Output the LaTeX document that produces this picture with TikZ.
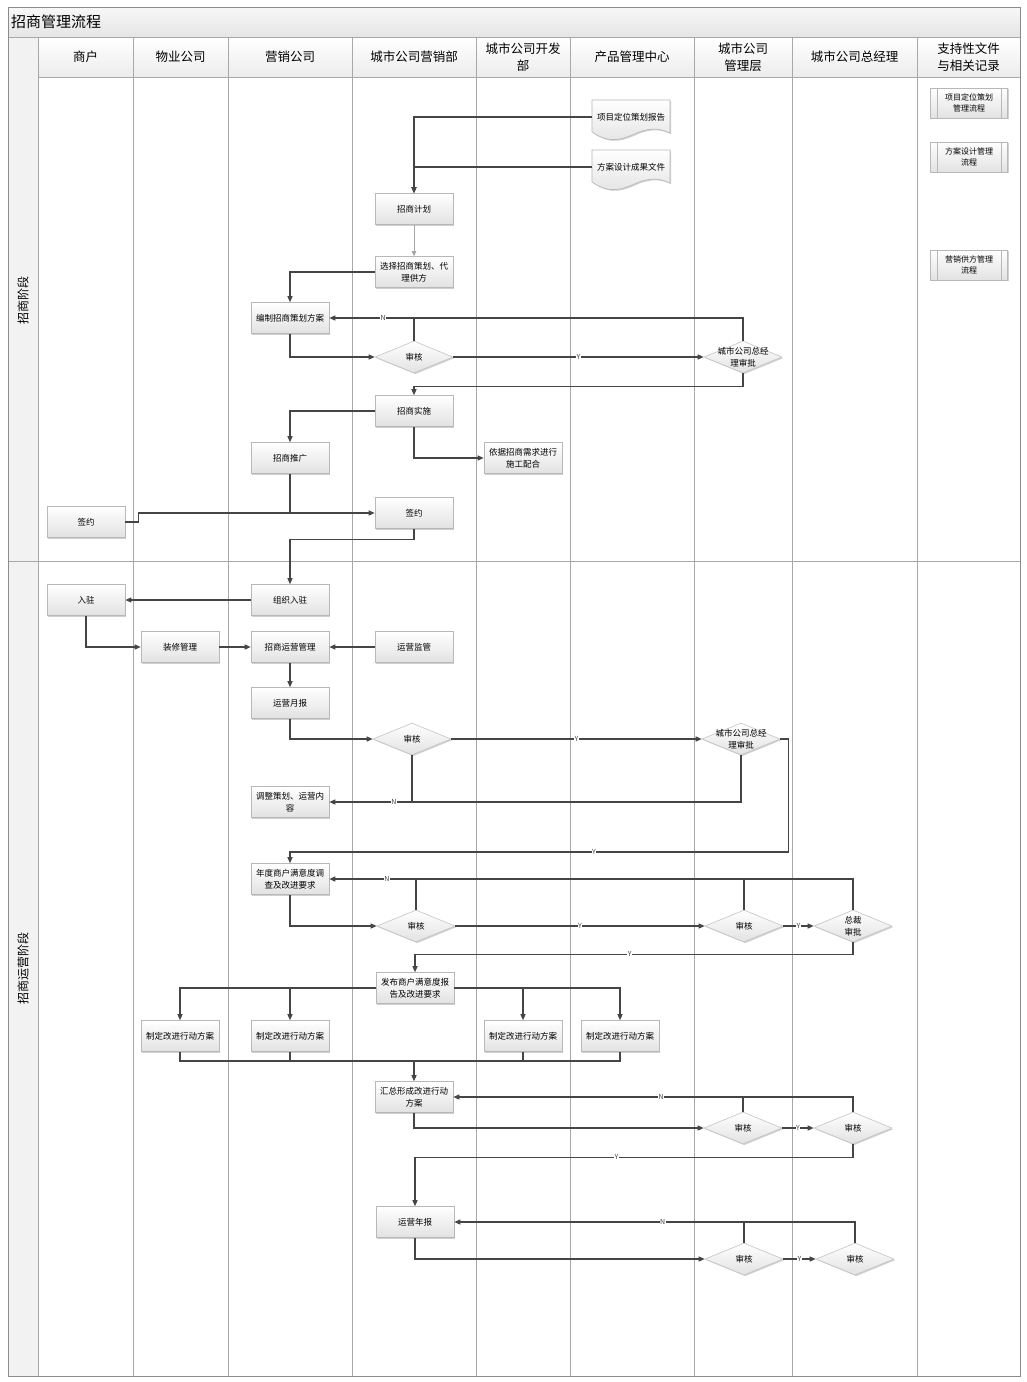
\documentclass[tikz,border=0pt]{standalone}
\usepackage{fontspec}
\setmainfont{Noto Sans CJK SC}
\usetikzlibrary{arrows.meta,shapes.geometric,shadows,calc}
\definecolor{linecol}{HTML}{454545}
\definecolor{lanecol}{HTML}{A8A8A8}
\definecolor{boxborder}{HTML}{B8B8B8}
\definecolor{boxbottom}{HTML}{E2E2E2}
\definecolor{decborder}{HTML}{C4C4C4}
\definecolor{headbottom}{HTML}{ECECEC}
\definecolor{phasefill}{HTML}{F2F2F2}
\tikzset{
  boxshadow/.style={drop shadow={shadow xshift=1.2pt,shadow yshift=-1.2pt,opacity=0.3,fill=black!60}},
  proc/.style={draw=boxborder,line width=0.6pt,top color=white,bottom color=boxbottom,
    minimum width=78pt,minimum height=31pt,inner sep=1pt,align=center,
    font=\fontsize{8.5}{12}\selectfont,boxshadow},
  supbox/.style={proc,minimum width=77pt,minimum height=30pt,font=\fontsize{8}{11}\selectfont},
  dec/.style={diamond,draw=decborder,line width=0.6pt,top color=white,bottom color=boxbottom,
    minimum width=78pt,minimum height=32pt,inner sep=0pt,boxshadow},
  dectext/.style={font=\fontsize{8.5}{12}\selectfont,align=center,inner sep=0pt},
  docshape/.style={draw=boxborder,line width=0.6pt,top color=white,bottom color=boxbottom,boxshadow},
  docnode/.style={minimum width=78pt,minimum height=34pt,inner sep=1pt,font=\fontsize{8.5}{12}\selectfont},
  conn/.style={draw=linecol,line width=1.1pt,-{Triangle[length=6pt,width=5pt]}},
  thinconn/.style={draw=black!35,line width=0.6pt,-{Triangle[length=5pt,width=4.5pt]},},
  plain/.style={draw=linecol,line width=1.1pt},
  yn/.style={font=\fontsize{7}{7}\selectfont,fill=white,inner sep=0.6pt,text=linecol},
  lane/.style={draw=lanecol,line width=0.7pt},
  head/.style={font=\fontsize{12.5}{17}\selectfont,align=center,inner sep=0pt},
}
\begin{document}
\begin{tikzpicture}[x=1pt,y=-1pt]
\useasboundingbox (0,0) rectangle (1026,1382);
% frame and lanes
\fill[white] (8,7) rectangle (1020,1376);
\shade[top color=white!97!black,bottom color=white!90!black] (8,7) rectangle (1020,37);
\shade[top color=white,bottom color=headbottom] (38,37) rectangle (1020,77);
\fill[phasefill] (8,37) rectangle (38,1376);
\node[anchor=west,font=\fontsize{15}{15}\selectfont,inner sep=0pt] (title) at (11,22) {招商管理流程};
\foreach \x in {38,133,228,352,476,570,694,792,917}{\draw[lane] (\x,37) -- (\x,1376);}
\draw[lane] (8,37) -- (1020,37);
\draw[lane] (38,77) -- (1020,77);
\draw[lane] (8,561) -- (1020,561);
\draw[draw=black!45,line width=0.8pt] (8,7) rectangle (1020,1376);
% headers
\node[head] (h1) at (85.5,57) {商户};
\node[head] (h2) at (180.5,57) {物业公司};
\node[head] (h3) at (290,57) {营销公司};
\node[head] (h4) at (414,57) {城市公司营销部};
\node[head] (h5) at (523,57) {城市公司开发\\部};
\node[head] (h6) at (632,57) {产品管理中心};
\node[head] (h7) at (743,57) {城市公司\\管理层};
\node[head] (h8) at (854.5,57) {城市公司总经理};
\node[head] (h9) at (968.5,57) {支持性文件\\与相关记录};
\node[rotate=90,font=\fontsize{12}{12}\selectfont,inner sep=0pt] (ph1) at (23,300) {招商阶段};
\node[rotate=90,font=\fontsize{12}{12}\selectfont,inner sep=0pt] (ph2) at (23,968) {招商运营阶段};
% document shapes
\foreach \cx/\cy in {631/117,631/167}{
  \path[docshape,shift={(\cx,\cy)}] (-39,-17) -- (39,-17) -- (39,16)
     .. controls (28,11) and (20,11) .. (8,15)
     .. controls (-8,22) and (-20,28) .. (-39,15) -- cycle;
}
\node[docnode] (d1) at (631,117) {项目定位策划报告};
\node[docnode] (d2) at (631,167) {方案设计成果文件};
% support documents
\node[supbox] (s1) at (969,103) {项目定位策划\\管理流程};
\node[supbox] (s2) at (969,157) {方案设计管理\\流程};
\node[supbox] (s3) at (969,265) {营销供方管理\\流程};
\foreach \n in {s1,s2,s3}{
  \draw[boxborder,line width=0.6pt] ($(\n.north west)+(7,0)$) -- ($(\n.south west)+(7,0)$);
  \draw[boxborder,line width=0.6pt] ($(\n.north east)+(-7,0)$) -- ($(\n.south east)+(-7,0)$);
}
% phase 1 nodes
\node[proc] (p1) at (414,209) {招商计划};
\node[proc] (p2) at (414,272) {选择招商策划、代\\理供方};
\node[proc] (p3) at (290,318) {编制招商策划方案};
\node[dec,label={[dectext]center:审核}] (q1) at (414,357) {};
\node[dec,label={[dectext]center:城市公司总经\\理审批}] (q2) at (743,357) {};
\node[proc] (p4) at (414,411) {招商实施};
\node[proc] (p5) at (290,458) {招商推广};
\node[proc] (p6) at (523,458) {依据招商需求进行\\施工配合};
\node[proc] (p7) at (86,522) {签约};
\node[proc] (p8) at (414,513) {签约};
% phase 1 connectors
\draw[conn] (d1.west) -| (p1.north);
\draw[conn] (d2.west) -| (p1.north);
\draw[thinconn] (p1) -- (p2);
\draw[conn] (p2.west) -| (p3.north);
\draw[conn] (p3.south) |- (q1.west);
\draw[conn] (q1.east) -- node[yn]{Y} (q2.west);
\draw[plain] (q1.north) -- (q1.north |- p3.east);
\draw[conn] (q2.north) |- (p3.east) node[yn,pos=0.935]{N};
\draw[conn] (q2.south) -- ++(0,13) -| (p4.north);
\draw[conn] (p4.west) -| (p5.north);
\draw[conn] (p4.south) |- (p6.west);
\draw[plain] (p5.south) -- (p5.south |- p8.west);
\draw[conn] (p7.east) -- ++(13,0) |- (p8.west);
% phase 2 nodes
\node[proc] (r1) at (290,600) {组织入驻};
\node[proc] (r2) at (86,600) {入驻};
\node[proc] (r3) at (180,647) {装修管理};
\node[proc] (r4) at (290,647) {招商运营管理};
\node[proc] (r5) at (414,647) {运营监管};
\node[proc] (r6) at (290,703) {运营月报};
\node[dec,label={[dectext]center:审核}] (q3) at (412,739) {};
\node[dec,label={[dectext]center:城市公司总经\\理审批}] (q4) at (741,739) {};
\node[proc] (r7) at (290,802) {调整策划、运营内\\容};
\node[proc] (r8) at (290,879) {年度商户满意度调\\查及改进要求};
\node[dec,label={[dectext]center:审核}] (q5) at (416,926) {};
\node[dec,label={[dectext]center:审核}] (q6) at (744,926) {};
\node[dec,label={[dectext]center:总裁\\审批}] (q7) at (853,926) {};
\node[proc] (r9) at (415,988) {发布商户满意度报\\告及改进要求};
\node[proc] (a1) at (180,1036) {制定改进行动方案};
\node[proc] (a2) at (290,1036) {制定改进行动方案};
\node[proc] (a3) at (523,1036) {制定改进行动方案};
\node[proc] (a4) at (620,1036) {制定改进行动方案};
\node[proc] (r10) at (414,1097) {汇总形成改进行动\\方案};
\node[dec,label={[dectext]center:审核}] (q8) at (743,1128) {};
\node[dec,label={[dectext]center:审核}] (q9) at (853,1128) {};
\node[proc] (r11) at (415,1222) {运营年报};
\node[dec,label={[dectext]center:审核}] (q10) at (744,1259) {};
\node[dec,label={[dectext]center:审核}] (q11) at (855,1259) {};
\coordinate (m) at (414,1061);
% phase 2 connectors
\draw[conn] (p8.south) -- ++(0,11) -| (r1.north);
\draw[conn] (r1) -- (r2);
\draw[conn] (r2.south) |- (r3.west);
\draw[conn] (r3) -- (r4);
\draw[conn] (r5) -- (r4);
\draw[conn] (r4) -- (r6);
\draw[conn] (r6.south) |- (q3.west);
\draw[conn] (q3.east) -- node[yn]{Y} (q4.west);
\draw[conn] (q3.south) |- (r7.east) node[yn,pos=0.61]{N};
\draw[plain] (q4.south) |- (q3.south |- r7.east);
\draw[conn] (q4.east) -- ++(8,0) -- ++(0,113) -| (r8.north) node[yn,pos=0.195]{Y};
\draw[plain] (q5.north) -- (q5.north |- r8.east);
\draw[plain] (q6.north) -- (q6.north |- r8.east);
\draw[conn] (q7.north) |- (r8.east) node[yn,pos=0.945]{N};
\draw[conn] (r8.south) |- (q5.west);
\draw[conn] (q5.east) -- node[yn]{Y} (q6.west);
\draw[conn] (q6.east) -- node[yn]{Y} (q7.west);
\draw[conn] (q7.south) -- ++(0,12) -| (r9.north) node[yn,pos=0.255]{Y};
\draw[conn] (r9.west) -| (a1.north);
\draw[conn] (r9.west) -| (a2.north);
\draw[conn] (r9.east) -| (a4.north);
\draw[conn] (r9.east) -| (a3.north);
\draw[plain] (a1.south) |- (a4.south |- m) -- (a4.south);
\draw[plain] (a2.south) -- (a2.south |- m);
\draw[plain] (a3.south) -- (a3.south |- m);
\draw[conn] (m) -- (r10.north);
\draw[plain] (q8.north) -- (q8.north |- r10.east);
\draw[conn] (q9.north) |- (r10.east) node[yn,pos=0.74]{N};
\draw[conn] (r10.south) |- (q8.west);
\draw[conn] (q8.east) -- node[yn]{Y} (q9.west);
\draw[conn] (q9.south) -- ++(0,13) -| (r11.north) node[yn,pos=0.27]{Y};
\draw[plain] (q10.north) -- (q10.north |- r11.east);
\draw[conn] (q11.north) |- (r11.east) node[yn,pos=0.74]{N};
\draw[conn] (r11.south) |- (q10.west);
\draw[conn] (q10.east) -- node[yn]{Y} (q11.west);
\end{tikzpicture}
\end{document}
